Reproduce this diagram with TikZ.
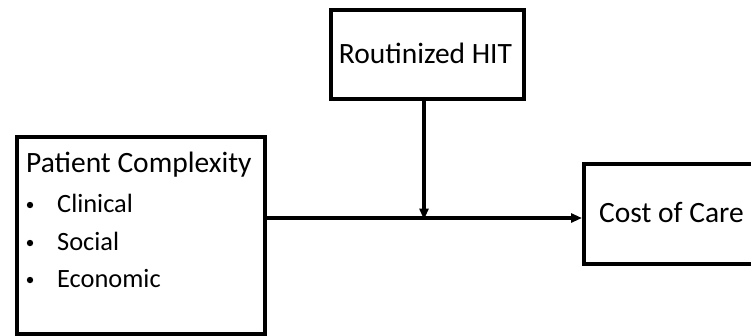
\documentclass[tikz,border=0pt]{standalone}
\usepackage{fontspec}
\setmainfont{Carlito}
\usetikzlibrary{arrows.meta}
\begin{document}
\begin{tikzpicture}[x=1bp,y=-1bp,line join=miter,>={Triangle[length=11bp,width=9bp]},
		box/.style={draw,line width=3.6bp,inner sep=0pt},
		head/.style={font=\fontsize{29.6}{35}\selectfont,inner sep=0pt,anchor=base},
		item/.style={font=\fontsize{26.5}{31}\selectfont,inner sep=0pt,anchor=base west}]
	\clip (0,0) rectangle (751,335);
	%%Hộp
	\node[box,anchor=north west,minimum width=248bp,minimum height=197bp] (PC) at (15,135) {};
	\node[box,anchor=north west,minimum width=193bp,minimum height=89bp] (RH) at (329,8) {};
	\node[box,anchor=north west,minimum width=260bp,minimum height=100bp] (CC) at (582,162) {};
	%%Chữ
	\node[head,anchor=base west] (title) at (26,172) {Patient Complexity};
	\node[head] (rhtext) at (425.5,63) {Routinized HIT};
	\node[head,anchor=base west] (cctext) at (599,222) {Cost of Care};
	\foreach \t/\y in {Clinical/212,Social/250,Economic/287}{
			\node[item] (\t) at (57,\y) {\t};
			\fill (30,\y-7) circle(3.2bp);
		}
	%%Mũi tên
	\coordinate (M) at (424,218);
	\draw[line width=3.2bp,->] (PC.east |- M) -- (CC.west |- M);
	\draw[line width=3.2bp,->] (RH.south -| M) -- ([yshift=-1.5bp]M);
\end{tikzpicture}
\end{document}
